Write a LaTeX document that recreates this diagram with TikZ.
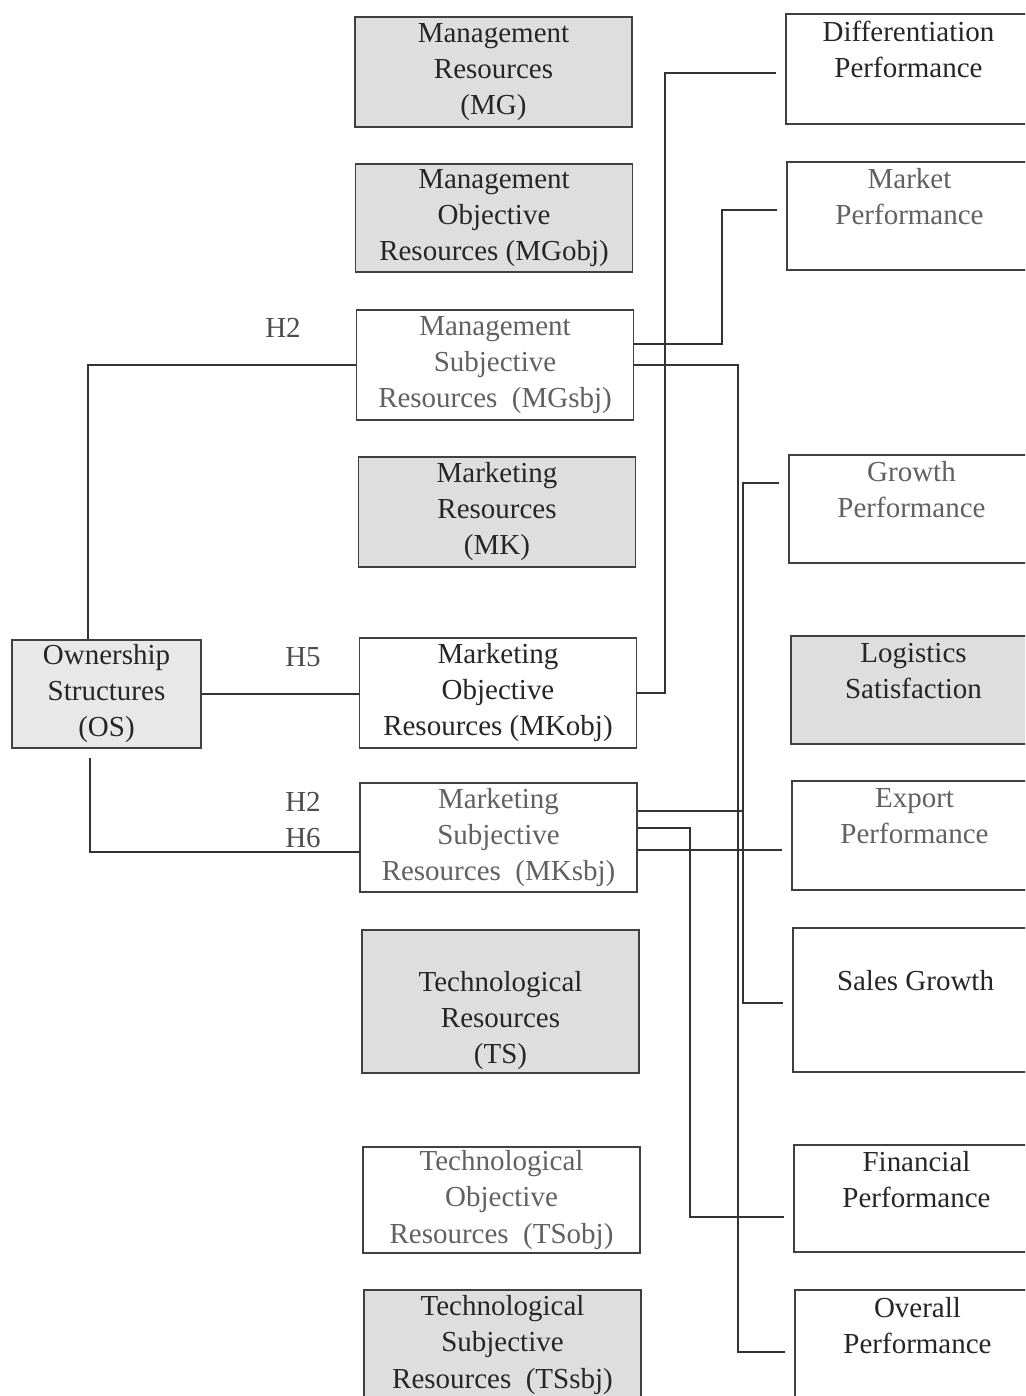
\documentclass[tikz,border=0pt]{standalone}
\usepackage{fontspec}
\setmainfont{Liberation Serif}
\usetikzlibrary{calc}

\begin{document}
\begin{tikzpicture}[x=0.02cm, y=-0.02cm,
  res/.style={draw=black!75, line width=0.9pt, fill=white, align=center, inner sep=0pt,
    minimum width=5.54cm, minimum height=2.2cm, font=\fontsize{16.5}{20.5}\selectfont, text=black!85},
  shade/.style={fill=black!13},
  pale/.style={text=black!62},
  perf/.style={res, minimum width=4.9cm, text depth=22pt},
  hyp/.style={font=\fontsize{16.5}{20.5}\selectfont, text=black!70, inner sep=0pt},
  link/.style={draw=black!80, line width=0.8pt},
  tolink/.style={link, shorten >=5.5pt}]
\useasboundingbox (0,0) rectangle (1025,1396);
\clip (0,0) rectangle (1025,1396);
\node[res,shade] (mg) at (493.5,72) {Management\\Resources\\(MG)};
\node[res,shade,minimum height=2.16cm] (mgobj) at (494,218) {Management\\Objective\\Resources (MGobj)};
\node[res,pale] (mgsbj) at (495,365) {Management\\Subjective\\Resources~~(MGsbj)};
\node[res,shade] (mk) at (497,512) {Marketing\\Resources\\(MK)};
\node[res] (mkobj) at (498,693) {Marketing\\Objective\\Resources (MKobj)};
\node[res,pale,minimum height=2.18cm] (mksbj) at (498.5,837.5) {Marketing\\Subjective\\Resources~~(MKsbj)};
\node[res,shade,minimum height=2.86cm,text height=74pt] (ts) at (500.5,1001.5) {Technological\\Resources\\(TS)};
\node[res,pale,minimum height=2.12cm] (tsobj) at (501.5,1200) {Technological\\Objective\\Resources~~(TSobj)};
\node[res,shade] (tssbj) at (502.5,1345) {Technological\\Subjective\\Resources~~(TSsbj)};
\node[res,shade,fill=black!9,minimum width=3.78cm,minimum height=2.16cm] (os) at (106.5,694) {Ownership\\Structures\\(OS)};
\node[perf] (diff) at (908.5,69) {Differentiation\\Performance};
\node[perf,pale,minimum height=2.16cm] (market) at (909.5,216) {Market\\Performance};
\node[perf,pale,minimum height=2.16cm] (growth) at (911.5,509) {Growth\\Performance};
\node[perf,shade,minimum height=2.16cm] (logist) at (913.5,690) {Logistics\\Satisfaction};
\node[perf,pale,minimum height=2.18cm] (export) at (914.5,835.5) {Export\\Performance};
\node[perf,minimum height=2.88cm] (sales) at (915.5,1000) {Sales Growth};
\node[perf,minimum height=2.14cm] (fin) at (916.5,1198.5) {Financial\\Performance};
\node[perf] (overall) at (917.5,1345) {Overall\\Performance};
\node[hyp] (hmg) at (283,328) {H2};
\node[hyp] (hmkobj) at (303,657) {H5};
\node[hyp] (hmksbja) at (303,802) {H2};
\node[hyp] (hmksbjb) at (303,838) {H6};
\draw[link] (os.north -| 88,0) |- (mgsbj.west);
\draw[link] (os.east) -- (mkobj.west |- os.east);
\draw[link] ($(os.south -| 90,0)+(0,9)$) |- (mksbj.west |- 0,852);
\draw[tolink] (mgsbj.east |- 0,344) -| (722,210) -- (market.west |- 0,210);
\draw[tolink] (mgsbj.east) -| (738,1352) -- (overall.west |- 0,1352);
\draw[tolink] (mkobj.east) -| (665,73) -- (diff.west |- 0,73);
\draw[tolink] (mksbj.east |- 0,811) -| (743,483) -- (growth.west |- 0,483);
\draw[tolink] (743,811) |- (sales.west |- 0,1003);
\draw[tolink] (mksbj.east |- 0,828) -| (690,1217) -- (fin.west |- 0,1217);
\draw[tolink] (mksbj.east |- 0,850) -- (export.west |- 0,850);
\end{tikzpicture}
\end{document}
